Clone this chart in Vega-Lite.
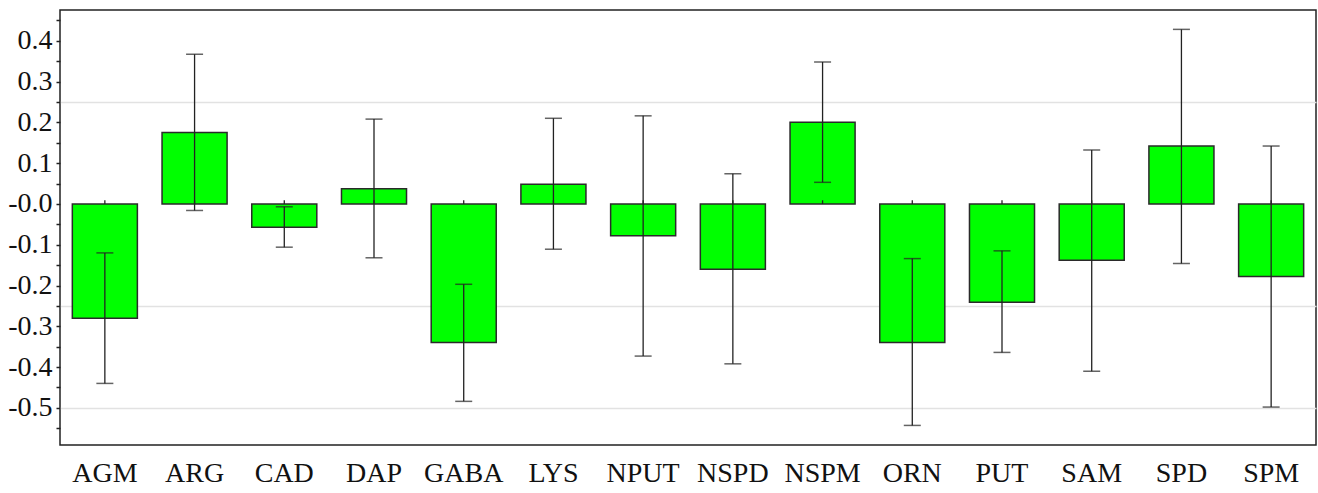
{
  "$schema": "https://vega.github.io/schema/vega-lite/v6.json",
  "autosize": {"type": "none"},
  "padding": {"left": 60, "top": 10, "right": 2, "bottom": 48},
  "width": 1256,
  "height": 435,
  "background": "white",
  "config": {
    "view": {"stroke": "#222", "strokeWidth": 1.5},
    "font": "Times New Roman, Liberation Serif, serif"
  },
  "data": {
    "values": [
      {"name": "AGM", "value": -0.28, "lower": -0.44, "upper": -0.12},
      {"name": "ARG", "value": 0.175, "lower": -0.016, "upper": 0.367},
      {"name": "CAD", "value": -0.057, "lower": -0.106, "upper": -0.007},
      {"name": "DAP", "value": 0.037, "lower": -0.132, "upper": 0.208},
      {"name": "GABA", "value": -0.34, "lower": -0.484, "upper": -0.197},
      {"name": "LYS", "value": 0.048, "lower": -0.111, "upper": 0.21},
      {"name": "NPUT", "value": -0.078, "lower": -0.373, "upper": 0.216},
      {"name": "NSPD", "value": -0.16, "lower": -0.392, "upper": 0.074},
      {"name": "NSPM", "value": 0.2, "lower": 0.053, "upper": 0.348},
      {"name": "ORN", "value": -0.34, "lower": -0.543, "upper": -0.134},
      {"name": "PUT", "value": -0.241, "lower": -0.364, "upper": -0.115},
      {"name": "SAM", "value": -0.138, "lower": -0.41, "upper": 0.132},
      {"name": "SPD", "value": 0.142, "lower": -0.146, "upper": 0.428},
      {"name": "SPM", "value": -0.178, "lower": -0.498, "upper": 0.142}
    ]
  },
  "encoding": {
    "x": {
      "field": "name",
      "type": "nominal",
      "sort": null,
      "scale": {"paddingInner": 0.275, "paddingOuter": 0.1375},
      "axis": {
        "title": null,
        "labelAngle": 0,
        "labelFont": "Times New Roman, Liberation Serif, serif",
        "labelFontSize": 28,
        "labelColor": "#111",
        "labelPadding": 14,
        "ticks": false,
        "domain": false,
        "grid": false
      }
    }
  },
  "layer": [
    {
      "mark": {"type": "bar", "fill": "#00ff00", "stroke": "#2a2a2a", "strokeWidth": 1.5},
      "encoding": {
        "y": {
          "field": "value",
          "type": "quantitative",
          "scale": {"domain": [-0.591, 0.4755], "nice": false, "zero": false},
          "axis": {
            "orient": "left",
            "title": null,
            "grid": false,
            "values": [-0.55, -0.5, -0.45, -0.4, -0.35, -0.3, -0.25, -0.2, -0.15, -0.1, -0.05, 0, 0.05, 0.1, 0.15, 0.2, 0.25, 0.3, 0.35, 0.4, 0.45],
            "labelExpr": "abs(round(datum.value*100)) % 10 == 0 ? ((datum.value <= 0 ? '-' : '') + format(abs(datum.value), '.1f')) : ''",
            "labelFont": "Times New Roman, Liberation Serif, serif",
            "labelFontSize": 28,
            "labelColor": "#111",
            "labelPadding": 4,
            "tickSize": 4,
            "tickColor": "#222",
            "tickWidth": 1.5,
            "domain": false
          }
        }
      }
    },
    {
      "mark": {"type": "rule", "color": "#222", "strokeWidth": 1.5},
      "encoding": {
        "y": {
          "datum": 0,
          "type": "quantitative",
          "axis": {
            "orient": "right",
            "title": null,
            "values": [-0.5, -0.25, 0.25],
            "grid": true,
            "gridColor": "#e2e2e2",
            "gridWidth": 1.5,
            "labels": false,
            "ticks": false,
            "domain": false
          }
        }
      }
    },
    {
      "mark": {"type": "rule", "color": "#222", "strokeWidth": 1.3},
      "encoding": {
        "y": {"datum": 0, "type": "quantitative", "axis": null},
        "y2": {"datum": 0.009}
      }
    },
    {
      "mark": {"type": "rule", "color": "#222", "strokeWidth": 1.3},
      "encoding": {
        "y": {"field": "lower", "type": "quantitative", "axis": null},
        "y2": {"field": "upper"}
      }
    },
    {
      "mark": {"type": "tick", "color": "#222", "size": 17, "thickness": 1.5, "orient": "horizontal"},
      "encoding": {"y": {"field": "lower", "type": "quantitative", "axis": null}}
    },
    {
      "mark": {"type": "tick", "color": "#222", "size": 17, "thickness": 1.5, "orient": "horizontal"},
      "encoding": {"y": {"field": "upper", "type": "quantitative", "axis": null}}
    }
  ],
  "resolve": {"axis": {"y": "independent"}}
}
